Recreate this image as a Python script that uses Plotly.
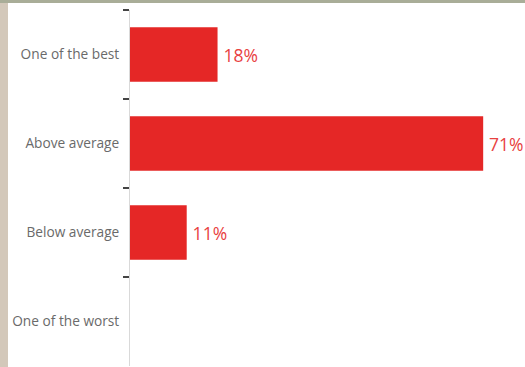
import plotly.graph_objects as go

categories = ["One of the best", "Above average", "Below average", "One of the worst"]
values = [17.6, 71.0, 11.4, None]
labels = ["18%", "71%", "11%", ""]

W, H = 525, 367
L, R, T, B = 130, 7, 10, 1
pw = W - L - R
ph = H - T - B

def fx(px):
    return (px - L) / pw

def fy(py):
    return (H - B - py) / ph

fig = go.Figure(go.Bar(
    y=categories,
    x=values,
    orientation="h",
    marker=dict(color="#e52726", line=dict(width=0)),
    text=[("\u2009" + t) if t else t for t in labels],
    textposition="outside",
    textfont=dict(color="#e8413f", size=17.5, family="Open Sans"),
    cliponaxis=False,
    width=0.61,
    hoverinfo="skip",
))

fig.update_layout(
    width=W, height=H,
    margin=dict(l=L, r=R, t=T, b=B),
    paper_bgcolor="white",
    plot_bgcolor="white",
    showlegend=False,
    xaxis=dict(range=[0, 78], visible=False, fixedrange=True),
    yaxis=dict(
        autorange="reversed",
        tickson="boundaries",
        ticks="outside",
        ticklen=6,
        tickwidth=2,
        tickcolor="#444",
        showline=True,
        linecolor="#d9d9d9",
        linewidth=1,
        showgrid=False,
        tickfont=dict(color="#6a6a6a", size=13.7, family="Open Sans"),
        ticklabelstandoff=7,
    ),
    shapes=[
        dict(type="rect", xref="paper", yref="paper", layer="below",
             x0=fx(0), x1=fx(8), y0=fy(H + 2), y1=fy(0),
             fillcolor="#d3c8ba", line=dict(width=0)),
        dict(type="rect", xref="paper", yref="paper", layer="below",
             x0=fx(0), x1=fx(W + 2), y0=fy(3), y1=fy(-2),
             fillcolor="#a9ad98", line=dict(width=0)),
    ],
)

fig.write_html("out.html")
